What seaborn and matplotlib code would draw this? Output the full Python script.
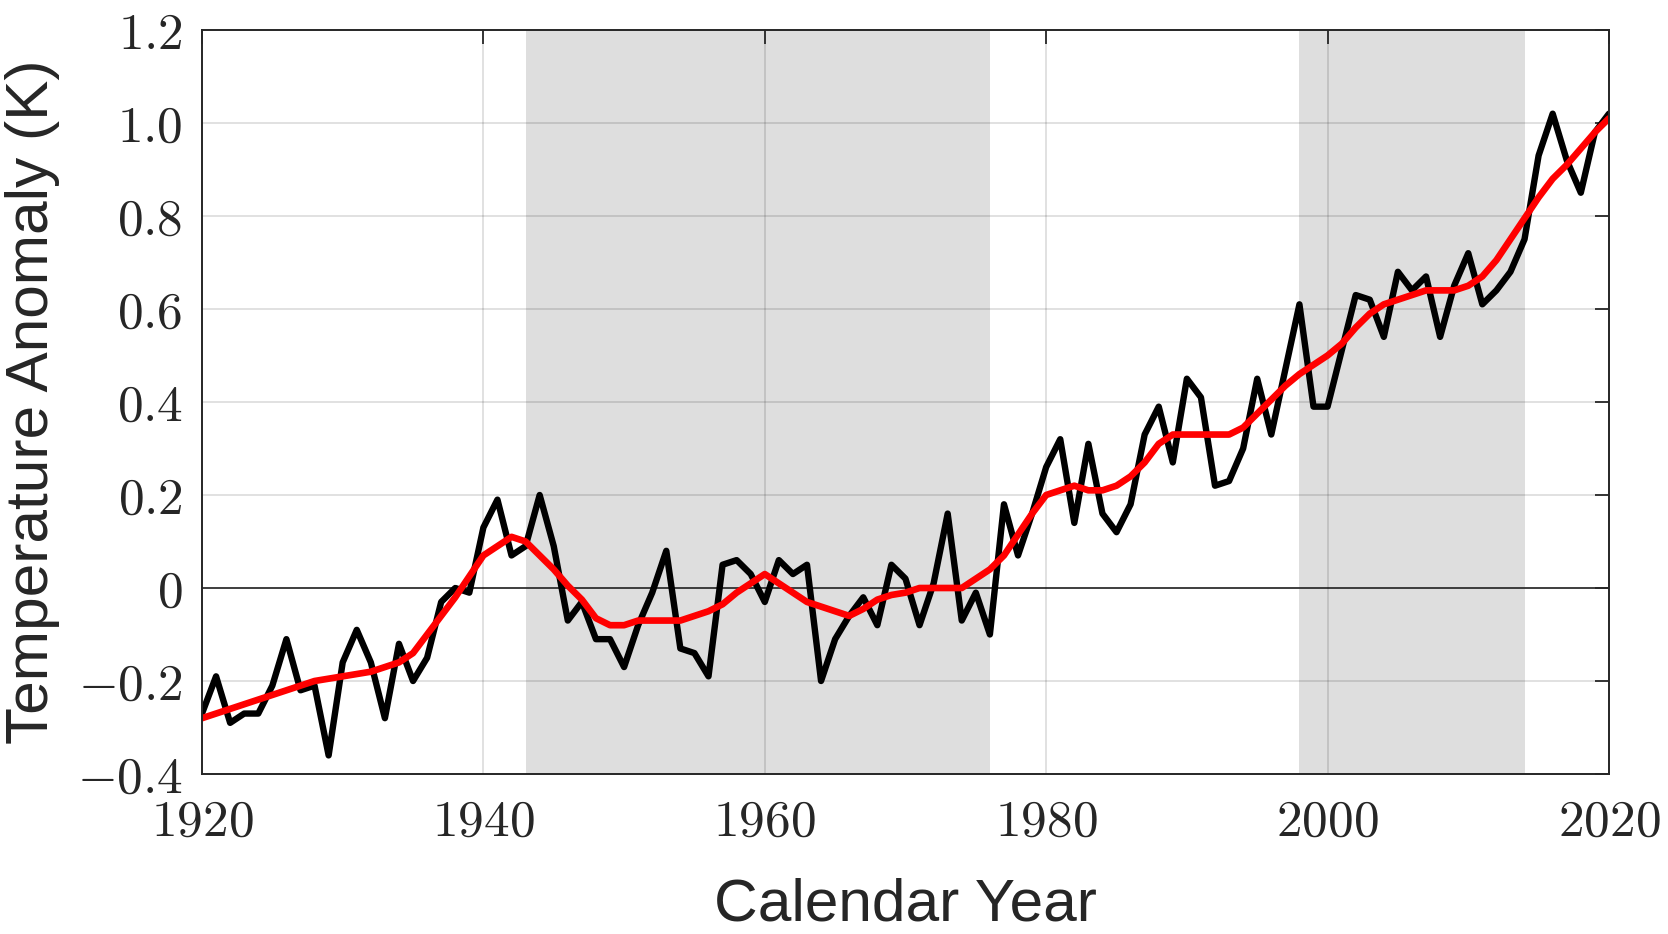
import numpy as np
import pandas as pd
import matplotlib
matplotlib.use("Agg")
import matplotlib.pyplot as plt
import seaborn as sns

# ---------------- data ----------------
years = list(range(1920, 2021))

anomaly = [
    -0.27, -0.19, -0.29, -0.27, -0.27, -0.21, -0.11, -0.22, -0.21, -0.36,   # 1920-1929
    -0.16, -0.09, -0.16, -0.28, -0.12, -0.20, -0.15, -0.03, 0.00, -0.01,    # 1930-1939
    0.13, 0.19, 0.07, 0.09, 0.20, 0.09, -0.07, -0.03, -0.11, -0.11,         # 1940-1949
    -0.17, -0.08, -0.01, 0.08, -0.13, -0.14, -0.19, 0.05, 0.06, 0.03,       # 1950-1959
    -0.03, 0.06, 0.03, 0.05, -0.20, -0.11, -0.06, -0.02, -0.08, 0.05,       # 1960-1969
    0.02, -0.08, 0.01, 0.16, -0.07, -0.01, -0.10, 0.18, 0.07, 0.16,         # 1970-1979
    0.26, 0.32, 0.14, 0.31, 0.16, 0.12, 0.18, 0.33, 0.39, 0.27,             # 1980-1989
    0.45, 0.41, 0.22, 0.23, 0.30, 0.45, 0.33, 0.47, 0.61, 0.39,             # 1990-1999
    0.39, 0.51, 0.63, 0.62, 0.54, 0.68, 0.64, 0.67, 0.54, 0.65,             # 2000-2009
    0.72, 0.61, 0.64, 0.68, 0.75, 0.93, 1.02, 0.92, 0.85, 0.98,             # 2010-2019
    1.02,                                                                   # 2020
]

smoothed = [
    -0.28, -0.27, -0.26, -0.25, -0.24, -0.23, -0.22, -0.21, -0.20, -0.195,  # 1920-1929
    -0.19, -0.185, -0.18, -0.17, -0.16, -0.14, -0.10, -0.06, -0.02, 0.025,  # 1930-1939
    0.07, 0.09, 0.11, 0.10, 0.07, 0.04, 0.005, -0.025, -0.065, -0.08,       # 1940-1949
    -0.08, -0.07, -0.07, -0.07, -0.07, -0.06, -0.05, -0.035, -0.01, 0.01,   # 1950-1959
    0.03, 0.01, -0.01, -0.03, -0.04, -0.05, -0.06, -0.045, -0.025, -0.015,  # 1960-1969
    -0.01, 0.00, 0.00, 0.00, 0.00, 0.02, 0.04, 0.07, 0.115, 0.16,           # 1970-1979
    0.20, 0.21, 0.22, 0.21, 0.21, 0.22, 0.24, 0.27, 0.31, 0.33,             # 1980-1989
    0.33, 0.33, 0.33, 0.33, 0.345, 0.375, 0.405, 0.435, 0.46, 0.48,         # 1990-1999
    0.50, 0.525, 0.56, 0.59, 0.61, 0.62, 0.63, 0.64, 0.64, 0.64,            # 2000-2009
    0.65, 0.67, 0.705, 0.75, 0.795, 0.84, 0.88, 0.91, 0.945, 0.98,          # 2010-2019
    1.01,                                                                   # 2020
]

shaded_periods = [(1943, 1976), (1998, 2014)]

x_ticks = [1920, 1940, 1960, 1980, 2000, 2020]
y_ticks = [-0.4, -0.2, 0.0, 0.2, 0.4, 0.6, 0.8, 1.0, 1.2]
y_tick_labels = ["$-0.4$", "$-0.2$", "$0$", "$0.2$", "$0.4$", "$0.6$", "$0.8$", "$1.0$", "$1.2$"]
x_tick_labels = ["$1920$", "$1940$", "$1960$", "$1980$", "$2000$", "$2020$"]

# ---------------- plot ----------------
sns.set_theme(style="white")
plt.rcParams["font.family"] = ["Liberation Sans", "DejaVu Sans"]
plt.rcParams["mathtext.fontset"] = "cm"

df = pd.DataFrame({"year": years, "anomaly": anomaly, "smoothed": smoothed})

fig = plt.figure(figsize=(16.68, 9.34), dpi=100)
ax = fig.add_axes([0.1211, 0.1713, 0.9646 - 0.1211, 0.9679 - 0.1713])

for start, end in shaded_periods:
    ax.axvspan(start, end, color="#dedede", zorder=0, lw=0)

ax.axhline(0, color="#3a3a3a", lw=1.3, zorder=1)

sns.lineplot(data=df, x="year", y="anomaly", ax=ax, color="black", linewidth=4.6, zorder=3)
sns.lineplot(data=df, x="year", y="smoothed", ax=ax, color="#ff0000", linewidth=4.8, zorder=4)

ax.set_xlim(1920, 2020)
ax.set_ylim(-0.4, 1.2)
ax.set_xticks(x_ticks)
ax.set_xticklabels(x_tick_labels)
ax.set_yticks(y_ticks)
ax.set_yticklabels(y_tick_labels)

ax.grid(True, color="black", alpha=0.13, lw=1.3, zorder=2)
ax.set_axisbelow(False)

ax.tick_params(axis="both", which="both", direction="in", length=10, width=1.3,
               colors="#262626", labelsize=37, top=True, right=True,
               labeltop=False, labelright=False)
ax.tick_params(axis="x", pad=17)
ax.tick_params(axis="y", pad=14)

for sp in ax.spines.values():
    sp.set_color("#262626")
    sp.set_linewidth(1.4)
    sp.set_zorder(5)

ax.set_xlabel("Calendar Year", fontsize=43.5, color="#262626", labelpad=22)
ax.set_ylabel("Temperature Anomaly (K)", fontsize=43.5, color="#262626", labelpad=12)

fig.savefig("out.png", dpi=100)
